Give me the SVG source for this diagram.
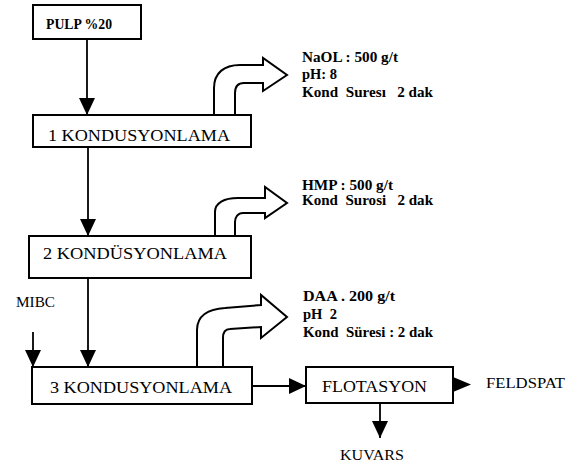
<svg xmlns="http://www.w3.org/2000/svg" width="576" height="469" viewBox="0 0 576 469">
<style>
.box{fill:#fff;stroke:#000;stroke-width:2}
.ln{fill:none;stroke:#000;stroke-width:1.8;marker-end:url(#ah)}
.big{fill:#fff;stroke:#000;stroke-width:2;stroke-linejoin:miter}
.t{font-family:"Liberation Serif","Times New Roman",serif;fill:#000}
.bt{font-size:17px}
.an{font-size:14px;font-weight:bold}
.lb{font-size:15px}
</style>
<defs>
<marker id="ah" markerUnits="userSpaceOnUse" markerWidth="17" markerHeight="16" refX="17" refY="8" orient="auto">
<path d="M0,0 L17,8 L0,16 z" fill="#000"/>
</marker>
</defs>
<rect width="576" height="469" fill="#fff"/>
<g id="connectors">
<line class="ln" x1="87" y1="39" x2="87" y2="115"/>
<line class="ln" x1="88" y1="147" x2="88" y2="236"/>
<line class="ln" x1="88" y1="278" x2="88" y2="367"/>
<line class="ln" x1="33" y1="332" x2="33" y2="367"/>
<line class="ln" x1="252" y1="386" x2="306" y2="386"/>
<path d="M453,377 L471,384.5 L453,392 z" fill="#000"/>
<line class="ln" x1="380" y1="403" x2="380" y2="438"/>
<path class="big" d="M214,115 V88 C214,73 224,65 240,65 H263 V58 L287,75 L263,91 V83 H244 C238,83 235,87 235,93 V115"/>
<path class="big" d="M215,237 V212 C215,203 224,198 238,198 H265 V187 L287,203 L265,218 V213 H243 C238,213 235,217 235,222 V237"/>
<path class="big" d="M197,367 V330 C197,316 208,309 225,308 L261,305 V295 L287,317 L261,338 V327 L230,329 C225,329 223,333 223,338 V367"/>
</g>
<g id="pulp">
<rect class="box" x="33" y="5" width="108" height="34"/>
<text class="t an" x="46" y="29" textLength="66" lengthAdjust="spacingAndGlyphs">PULP %20</text>
</g>
<g id="k1">
<rect class="box" x="33" y="115" width="218" height="32"/>
<text class="t bt" x="48" y="141" textLength="182" lengthAdjust="spacingAndGlyphs">1  KONDUSYONLAMA</text>
</g>
<g id="k1note">
<text class="t an" x="302" y="62" textLength="96" lengthAdjust="spacingAndGlyphs">NaOL : 500 g/t</text>
<text class="t an" x="302" y="79" textLength="35" lengthAdjust="spacingAndGlyphs">pH: 8</text>
<text class="t an" x="302" y="97" textLength="131" lengthAdjust="spacingAndGlyphs" xml:space="preserve">Kond  Suresı   2 dak</text>
</g>
<g id="k2">
<rect class="box" x="29" y="236" width="222" height="42"/>
<text class="t bt" x="43" y="259" textLength="184" lengthAdjust="spacingAndGlyphs">2  KONDÜSYONLAMA</text>
</g>
<g id="k2note">
<text class="t an" x="302" y="190" textLength="91" lengthAdjust="spacingAndGlyphs">HMP : 500 g/t</text>
<text class="t an" x="302" y="205" textLength="131" lengthAdjust="spacingAndGlyphs" xml:space="preserve">Kond  Surosi   2 dak</text>
</g>
<g id="mibc">
<text class="t lb" x="16" y="307" textLength="39" lengthAdjust="spacingAndGlyphs">MIBC</text>
</g>
<g id="k3">
<rect class="box" x="32" y="367" width="220" height="37"/>
<text class="t bt" x="50" y="393" textLength="182" lengthAdjust="spacingAndGlyphs">3  KONDUSYONLAMA</text>
</g>
<g id="k3note">
<text class="t an" x="303" y="301" textLength="92" lengthAdjust="spacingAndGlyphs">DAA . 200 g/t</text>
<text class="t an" x="303" y="319" textLength="34" lengthAdjust="spacingAndGlyphs" xml:space="preserve">pH  2</text>
<text class="t an" x="303" y="337" textLength="130" lengthAdjust="spacingAndGlyphs" xml:space="preserve">Kond  Süresi : 2 dak</text>
</g>
<g id="flotasyon">
<rect class="box" x="306" y="367" width="147" height="36"/>
<text class="t bt" x="322" y="392" textLength="105" lengthAdjust="spacingAndGlyphs">FLOTASYON</text>
</g>
<g id="feldspat">
<text class="t lb" x="486" y="388" textLength="79" lengthAdjust="spacingAndGlyphs">FELDSPAT</text>
</g>
<g id="kuvars">
<text class="t lb" x="340" y="460" textLength="64" lengthAdjust="spacingAndGlyphs">KUVARS</text>
</g>
</svg>
